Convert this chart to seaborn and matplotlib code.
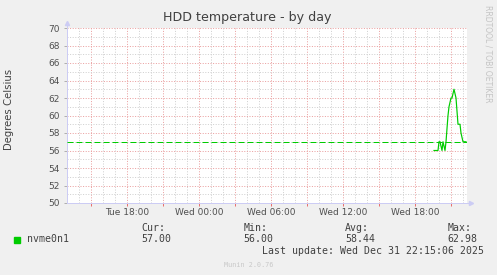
import matplotlib
matplotlib.use("Agg")
import matplotlib.pyplot as plt
import matplotlib.dates as mdates
from matplotlib.ticker import MultipleLocator, FuncFormatter
from matplotlib.patches import Rectangle
import pandas as pd
import seaborn as sns

# ---------------- data ----------------
title = "HDD temperature - by day"
y_label = "Degrees Celsius"
series_name = "nvme0n1"
sample_start = "2025-12-31 19:35"
sample_step = "5min"
temperatures = [56, 56, 56, 56, 56, 57, 57, 56.5, 56, 57, 56.5, 56, 57,
                58.5, 60, 61, 61.5, 62, 62, 62.5, 63, 62.5, 62, 60.5,
                59, 59, 59, 58, 57.5, 57, 57, 57, 57]
dashed_level = 57.0
window_start = "2025-12-30 13:00"
window_end = "2025-12-31 22:20"
y_min, y_max = 50, 70
stat_labels = ["Cur:", "Min:", "Avg:", "Max:"]
stat_values = ["57.00", "56.00", "58.44", "62.98"]
last_update = "Last update: Wed Dec 31 22:15:06 2025"
footer = "Munin 2.0.76"
watermark = "RRDTOOL / TOBI OETIKER"

times = pd.date_range(sample_start, periods=len(temperatures), freq=sample_step)
df = pd.DataFrame({"time": times, "temp": temperatures})
dash_df = pd.DataFrame({"time": pd.to_datetime([window_start, window_end]),
                        "temp": [dashed_level, dashed_level]})

# ---------------- figure ----------------
W, H = 497, 275
BG = "#F0F0F0"
GREEN = "#00CC00"
TXT = "#404040"
AXC = "#CCCCF4"
fig = plt.figure(figsize=(W / 100, H / 100), dpi=100, facecolor=BG)
ax = fig.add_axes([67 / W, 1 - 203 / H, 400 / W, 175 / H])
ax.set_facecolor("white")

px = 0.72  # one pixel in points

sns.lineplot(data=dash_df, x="time", y="temp", ax=ax, color=GREEN,
             linewidth=px, linestyle=(0, (6, 3)), zorder=3)
sns.lineplot(data=df, x="time", y="temp", ax=ax, color=GREEN,
             linewidth=px * 1.2, zorder=4)

ax.set_xlim(pd.Timestamp(window_start), pd.Timestamp(window_end))
ax.set_ylim(y_min, y_max)

# grid
ax.xaxis.set_major_locator(mdates.HourLocator(byhour=range(0, 24, 3)))
ax.xaxis.set_minor_locator(mdates.HourLocator())
ax.yaxis.set_major_locator(MultipleLocator(2))
ax.yaxis.set_minor_locator(MultipleLocator(1))


def xfmt(v, pos):
    d = mdates.num2date(v)
    return d.strftime("%a %H:%M") if d.hour % 6 == 0 else ""


ax.xaxis.set_major_formatter(FuncFormatter(xfmt))
ax.set_axisbelow(True)
ax.grid(which="minor", color="#D0D0D0", linestyle=(0, (1, 1.6)),
        linewidth=px)
ax.grid(which="major", color="#EAA0A0", linestyle=(0, (1, 1.6)),
        linewidth=px)

ax.tick_params(axis="x", which="major", direction="out", length=2.2,
               width=px, color="#E87070", pad=1.5, labelsize=6.5,
               labelcolor="#505050")
ax.tick_params(axis="x", which="minor", length=0)
ax.tick_params(axis="y", which="major", direction="out", length=2.2,
               width=px, color="#B0B0B0", pad=2.8, labelsize=6.5,
               labelcolor="#505050")
ax.tick_params(axis="y", which="minor", length=0)
ax.yaxis.set_major_formatter(FuncFormatter(lambda v, p: f"{int(v)}"))

ax.set_xlabel("")
ax.set_ylabel("")
for s in ["top", "right"]:
    ax.spines[s].set_visible(False)
for s in ["left", "bottom"]:
    ax.spines[s].set_color(AXC)
    ax.spines[s].set_linewidth(px)

# axis arrows
ax.plot([0, 0], [1, 1.03], transform=ax.transAxes, color=AXC,
        lw=px, clip_on=False)
ax.plot([0], [1.03], transform=ax.transAxes, marker="^", markersize=3,
        color=AXC, clip_on=False)
ax.plot([1, 1.01], [0, 0], transform=ax.transAxes, color=AXC,
        lw=px, clip_on=False)
ax.plot([1.01], [0], transform=ax.transAxes, marker=">", markersize=3,
        color=AXC, clip_on=False)

# texts
def fy(y):
    return 1 - y / H


fig.text(247.5 / W, fy(18), title, ha="center", va="center",
         fontsize=9.1, color=TXT, family="DejaVu Sans")
fig.text(9 / W, fy(109), y_label, ha="center", va="center", rotation=90,
         fontsize=7.3, color=TXT, family="DejaVu Sans")
fig.text(487.7 / W, fy(54), watermark, ha="center", va="center",
         rotation=270, fontsize=5.5, color="#C4C4C4", family="DejaVu Sans")

mono = "DejaVu Sans Mono"
fig.patches.append(Rectangle((14 / W, fy(243)), 6 / W, 6 / H,
                             transform=fig.transFigure, color=GREEN))
fig.text(27 / W, fy(242.5), series_name, ha="left", va="baseline",
         fontsize=7.1, color=TXT, family=mono)
col_x = [141, 243.4, 345.3, 447.7]
for x, lab, val in zip(col_x, stat_labels, stat_values):
    fig.text(x / W, fy(230.7), lab, ha="left", va="baseline",
             fontsize=7.1, color=TXT, family=mono)
    fig.text(x / W, fy(242.5), val, ha="left", va="baseline",
             fontsize=7.1, color=TXT, family=mono)
fig.text(483.5 / W, fy(254.5), last_update, ha="right", va="baseline",
         fontsize=7.1, color=TXT, family=mono)
fig.text(248.7 / W, fy(267), footer, ha="center", va="baseline",
         fontsize=4.9, color="#C8C8C8", family=mono)

fig.savefig("out.png", dpi=100, facecolor=BG)
